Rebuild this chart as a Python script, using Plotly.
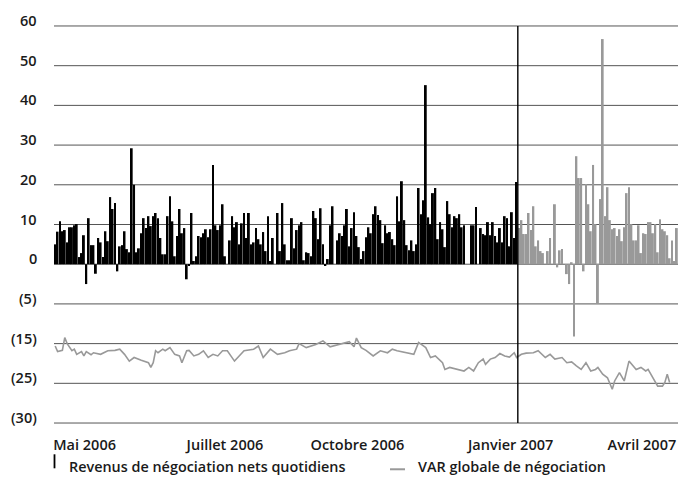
import plotly.graph_objects as go

# Daily net trading revenues (black = 2006, grey = 2007)
black_values = [
    5.0, 8.2, 10.8, 8.3, 8.6, 5.5, 9.3, 9.3, 9.8, 10.1, 1.8, 2.8, 7.3, -5.0, 11.6,
    4.8, 4.8, -2.4, 6.6, 5.5, 1.8, 8.3, 5.8, 16.9, 13.9, 15.4, -1.8, 4.5, 4.8, 8.3,
    3.8, 3.0, 29.2, 20.0, 3.0, 4.0, 7.8, 11.6, 9.1, 12.1, 9.6, 12.1, 12.9, 11.6, 6.6,
    2.5, 2.5, 12.1, 17.1, 10.8, 2.0, 7.1, 13.9, 7.8, 9.1, -3.8, -0.3, 12.9, 0.8, 2.0,
    7.1, 6.8, 7.8, 8.8, 6.8, 8.8, 25.0, 9.8, 8.6, 9.8, 15.1, 2.0, 0.0, 6.0, 12.1,
    9.3, 10.6, 5.0, 10.3, 12.9, 6.6, 12.9, 5.0, 5.5, 9.1, 6.3, 5.0, 8.1, 3.3, 12.1,
    0.8, 6.6, 0.0, 12.9, 3.3, 15.4, 5.0, 1.0, 1.0, 11.6, 4.0, 8.6, 9.8, 10.6, 1.0,
    3.0, 2.8, 2.0, 13.4, 11.6, 6.3, 14.1, 5.0, -0.3, 1.3, 9.8, 14.6, 0.0, 6.0, 7.8,
    7.1, 9.8, 13.9, 4.5, 9.1, 13.1, 7.1, 4.3, 1.3, 3.3, 6.8, 9.3, 7.8, 12.6, 14.6,
    12.4, 11.1, 5.3, 9.8, 7.8, 8.1, 6.3, 4.8, 17.1, 10.8, 20.9, 11.1, 4.8, 3.5, 6.0,
    3.3, 5.0, 19.2, 12.6, 16.1, 45.1, 11.8, 10.1, 17.9, 19.2, 6.3, 10.6, 8.8, 4.3, 15.9,
    12.6, 9.3,
    12.1, 11.6, 12.6, 9.3, 9.8, 0.0, 0.0, 9.8, 9.8, 14.4, 0.0, 9.1, 7.6, 7.3, 10.6,
    7.3, 10.6, 7.1, 5.5, 9.1, 5.5, 12.1, 11.6, 4.5, 13.1, 6.6, 20.7,
]
grey_values = [
    9.1, 11.1, 7.6, 7.6, 12.9, 8.6, 14.6, 4.5, 6.0, 3.3, 2.8, 0.0, 3.3, 6.6, 0.0,
    15.1, -0.8, 3.5, 3.8, 0.0, -2.5, -5.0, 0.5, -18.2, 27.2, 21.7, 21.7, -1.8, 20.2, 15.1,
    8.3, 25.0, 10.1, -10.0, 16.4, 56.7, 12.1, 19.4, 11.1, 8.8, 9.1, 7.1, 8.8, 5.8, 9.3,
    17.9, 19.4, 10.1, 6.0, 6.0, 9.8, 2.8, 7.8, 7.6, 10.6, 10.6, 7.8, 10.1, 3.0, 11.3,
    8.8, 8.3, 7.3, 1.5, 6.0, 0.8, 9.1,
]

# Global trading VaR (in chart units), by trading day index
var_days = [
    0, 1, 3, 4, 5, 6, 7, 8, 9, 11, 12, 13, 15, 16, 19, 22, 25, 27, 29, 31,
    33, 36, 39, 40, 41, 42, 43, 45, 46, 48, 50, 52, 53, 55, 56, 58, 60, 62, 64, 66,
    68, 70, 72, 75, 79, 83, 85, 87, 90, 93, 96, 98, 101, 102, 105, 109, 112, 115, 119, 123,
    125, 126, 128, 130, 133, 136, 139, 141, 143, 147, 150, 152, 155, 157, 159, 162, 163, 165, 168, 171,
    173, 175, 177, 179, 180, 182, 184, 186, 188, 190, 192, 193, 195, 197, 200, 202, 205, 207, 209, 212,
    214, 216, 218, 220, 222, 224, 226, 227, 229, 231, 233, 234, 236, 238, 240, 243, 245, 247, 248, 250,
    252, 254, 255, 256, 257,
]
var_values = [
    -20.6, -22.0, -21.7, -18.5, -20.0, -21.0, -21.8, -21.4, -22.7, -22.0, -23.1, -22.0, -22.8, -22.3, -22.7, -21.8, -21.7, -21.4, -22.7, -24.4,
    -23.5, -24.2, -24.8, -26.0, -24.8, -21.8, -22.3, -21.4, -21.8, -21.0, -22.7, -23.1, -24.8, -21.8, -21.7, -23.1, -22.7, -21.8, -23.5, -22.7,
    -23.1, -21.8, -21.8, -24.4, -21.8, -21.4, -20.6, -23.5, -21.4, -22.7, -22.3, -21.8, -21.4, -20.0, -21.0, -20.2, -19.3, -20.8, -20.2, -19.5,
    -20.8, -18.6, -21.0, -21.7, -23.1, -21.8, -22.3, -21.4, -21.8, -22.3, -22.7, -19.7, -21.0, -23.5, -23.1, -24.8, -26.5, -26.0, -26.5, -26.9,
    -26.0, -26.9, -24.8, -23.9, -25.2, -23.9, -23.5, -22.5, -23.1, -23.4, -22.3, -23.5, -22.7, -22.4, -22.3, -21.8, -23.5, -22.7, -23.9, -23.5,
    -24.8, -24.6, -25.6, -26.5, -24.8, -26.9, -26.5, -26.0, -27.7, -28.6, -31.5, -29.4, -27.3, -29.4, -24.4, -26.5, -26.0, -26.9, -26.5, -28.6,
    -30.7, -30.7, -29.8, -27.7, -29.8,
]

y_tick_vals = [60, 50, 40, 30, 20, 10, 0, -10, -20, -30, -40]
y_tick_text = ["60", "50", "40", "30", "20", "10", "0", "(5)", "(15)", "(25)", "(30)"]
x_tick_days = [12.3, 71.0, 126.4, 190.5, 245.4]
x_tick_text = ["Mai 2006", "Juillet 2006", "Octobre 2006", "Janvier 2007", "Avril 2007"]

legend_bar = "Revenus de négociation nets quotidiens"
legend_var = "VAR globale de négociation"

FONT = "Open Sans"
TXT = "#1a1a1a"
GREY = "#999999"
GRID = "#555555"

n_black = len(black_values)
n_total = n_black + len(grey_values)
black_x = list(range(n_black))
grey_x = list(range(n_black, n_total))

fig = go.Figure()
fig.add_trace(go.Bar(x=black_x, y=black_values, marker=dict(color="#000000", line=dict(width=0)),
                     name=legend_bar, showlegend=False))
fig.add_trace(go.Bar(x=grey_x, y=grey_values, marker=dict(color=GREY, line=dict(width=0)),
                     name=legend_bar + " 2007", showlegend=False))
fig.add_trace(go.Scatter(x=var_days, y=var_values, mode="lines",
                         line=dict(color=GREY, width=1.6), name=legend_var, showlegend=False))

# Horizontal gridlines at each y tick (including the top and bottom ones)
for v in y_tick_vals:
    fig.add_shape(type="line", xref="paper", yref="y", x0=0, x1=1, y0=v, y1=v,
                  line=dict(color=GRID, width=1), layer="below")

# Vertical separator at January 2007
fig.add_shape(type="line", xref="x", yref="y", x0=n_black - 0.5, x1=n_black - 0.5,
              y0=-40, y1=60, line=dict(color="#000000", width=1.4), layer="above")

# Y tick labels (baseline sitting on the gridline, as in the reference)
for v, t in zip(y_tick_vals, y_tick_text):
    fig.add_annotation(xref="paper", yref="y", x=0, y=v, text=t, showarrow=False,
                       xanchor="right", yanchor="middle", xshift=-15, yshift=5.5,
                       font=dict(family=FONT, size=14.5, color=TXT, weight=600))

# Manual legend
fig.add_shape(type="line", xref="paper", yref="paper", x0=0.0008, x1=0.0008,
              y0=-0.0674, y1=-0.102, line=dict(color="#000000", width=1.8))
fig.add_annotation(xref="paper", yref="paper", x=0.0205, y=-0.0975, text=legend_bar,
                   showarrow=False, xanchor="left", yanchor="middle",
                   font=dict(family=FONT, size=14.4, color=TXT, weight=600))
fig.add_shape(type="line", xref="paper", yref="paper", x0=0.5385, x1=0.5625,
              y0=-0.1044, y1=-0.1044, line=dict(color=GREY, width=2))
fig.add_annotation(xref="paper", yref="paper", x=0.5800, y=-0.0975, text=legend_var,
                   showarrow=False, xanchor="left", yanchor="middle",
                   font=dict(family=FONT, size=14.4, color=TXT, weight=600))

fig.update_layout(
    width=681, height=477,
    margin=dict(l=54, r=3, t=22, b=50, autoexpand=False),
    paper_bgcolor="white", plot_bgcolor="white",
    bargap=0.2, barmode="overlay",
    showlegend=False,
    xaxis=dict(range=[-0.5, n_total - 0.5], showgrid=False, zeroline=False, showline=False,
               tickmode="array", tickvals=x_tick_days, ticktext=x_tick_text,
               ticks="outside", ticklen=5, tickcolor="rgba(0,0,0,0)", automargin=False,
               tickfont=dict(family=FONT, size=14.5, color=TXT, weight=600)),
    yaxis=dict(range=[-41, 61], tickmode="array", tickvals=y_tick_vals, showticklabels=False,
               showgrid=False, automargin=False, zeroline=False, showline=False),
)

fig.write_html("out.html", config={"displayModeBar": False},
               post_script="document.body.style.margin='0';document.body.style.padding='0';")
